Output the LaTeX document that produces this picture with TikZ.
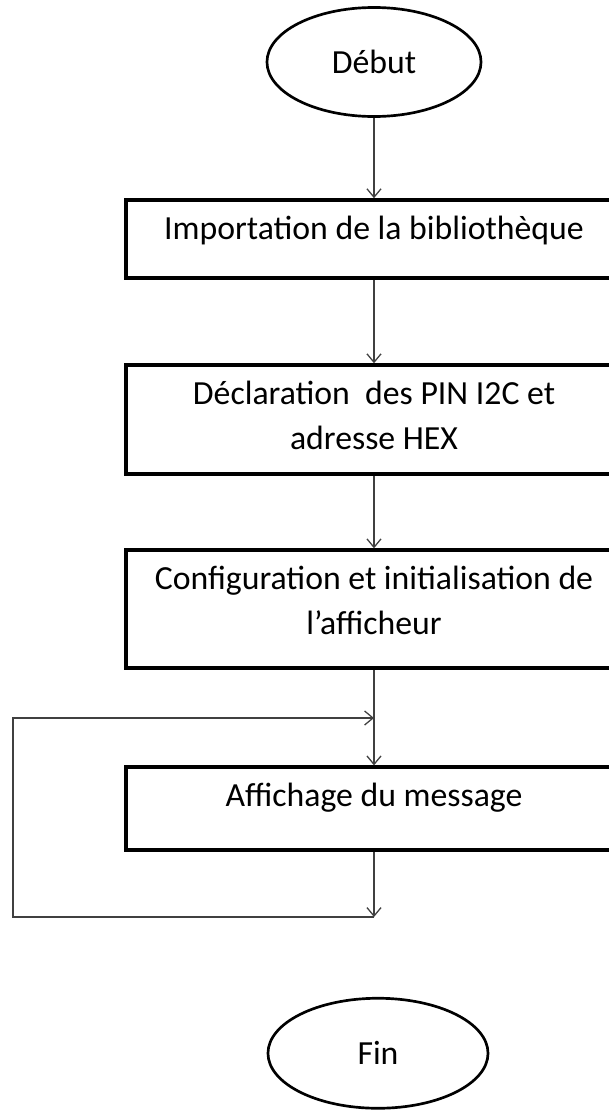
\documentclass[tikz,border=0pt]{standalone}
\usepackage{fontspec}
\setmainfont{Carlito}
\usetikzlibrary{shapes.geometric, arrows.meta}

\tikzset{
  box/.style={draw, line width=2.6pt, inner sep=0pt, font=\fontsize{24}{32}\selectfont},
  term/.style={draw, ellipse, line width=1.9pt, minimum width=5.35cm, minimum height=2.725cm,
    font=\fontsize{24}{32}\selectfont},
  flow/.style={->, line width=0.9pt, black!75},
}
\newcommand{\boxtext}[2]{\parbox[c][#1][t]{12.4cm}{\centering\vspace*{0.4cm}#2}}

\begin{document}
\begin{tikzpicture}[x=0.025cm, y=-0.025cm, >={Straight Barb[length=6pt, width=10pt]}]
			\useasboundingbox (0,0) rectangle (609,1112);
			\clip (0,0) rectangle (609,1112);

			\node (1) [term] at (374,62) {Début};
			\node (2) [box, below of=1, node distance=4.425cm] {\boxtext{1.95cm}{Importation de la bibliothèque}};
			\node (3) [box, below of=2, node distance=4.5125cm] {\boxtext{2.725cm}{Déclaration\ \ des PIN I2C et\\adresse HEX}};
			\node (4) [box, below of=3, node distance=4.7375cm] {\boxtext{2.95cm}{Configuration et initialisation de\\l’afficheur}};
			\node (5) [box, below of=4, node distance=4.9875cm] {\boxtext{2.075cm}{Affichage du message}};
			\node (6) [term, below of=5, node distance=6.1125cm, xshift=0.1cm,
			  minimum width=5.5cm, minimum height=2.75cm] {Fin};

			% loop back
			\coordinate (7) at (374,718);
			\coordinate (8) at (374,917);
			\coordinate (9) at (13,917);
			\coordinate (10) at (13,718);

			\path[flow]
			  (1) edge (2)
			  (2) edge (3)
			  (3) edge (4)
			  (4) edge (5)
			  (5) edge (8);
			\draw[flow] (8) -- (9) -- (10) -- (7);

		  \end{tikzpicture}
\end{document}
